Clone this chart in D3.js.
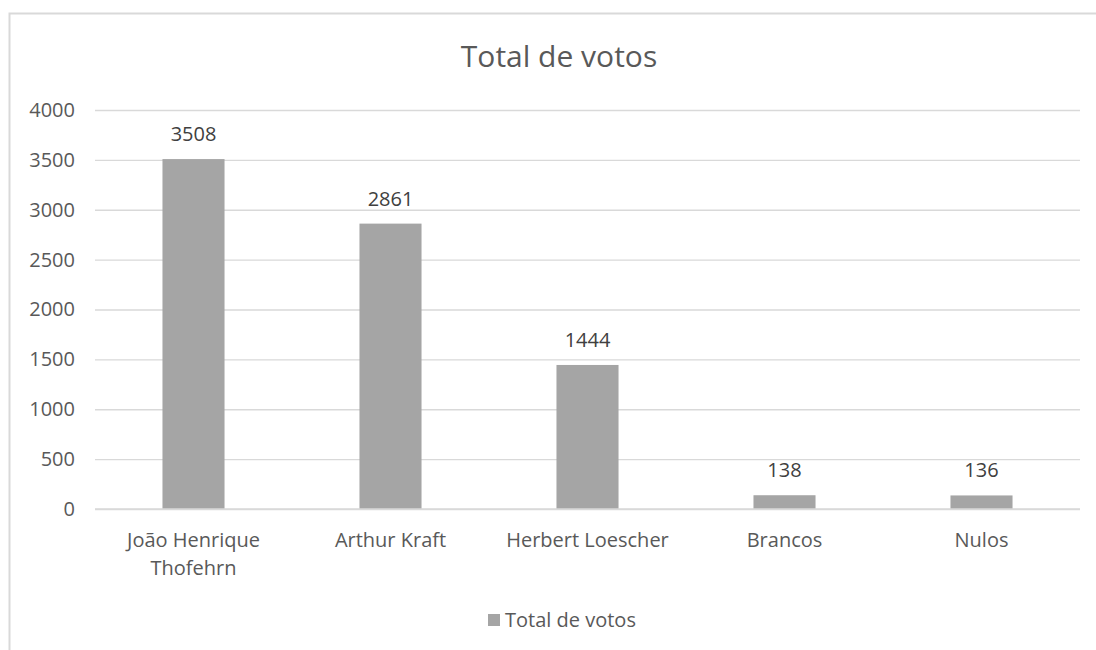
<!DOCTYPE html>
<html>
<head>
<meta charset="utf-8">
<script src="https://cdn.jsdelivr.net/npm/d3@7"></script>
<style>
  body { margin: 0; background: #fff; }
  text { font-family: "Open Sans", "Noto Sans", sans-serif; }
</style>
</head>
<body>
<svg id="chart" width="1096" height="650"></svg>
<script>
var categories = ["João Henrique Thofehrn", "Arthur Kraft", "Herbert Loescher", "Brancos", "Nulos"],
    votes = [3508, 2861, 1444, 138, 136],
    yTicks = [0, 500, 1000, 1500, 2000, 2500, 3000, 3500, 4000],
    seriesName = "Total de votos";

var svg = d3.select("#chart"),
    WIDTH = 1096,
    HEIGHT = 650,
    MARGINS = { top: 110, right: 16, bottom: 141, left: 95 };

// chart frame (cut off at right and bottom like the source)
svg.append("rect")
  .attr("x", 9.5).attr("y", 13.5)
  .attr("width", 1200).attr("height", 800)
  .attr("fill", "#fff")
  .attr("stroke", "#d9d9d9")
  .attr("stroke-width", 2);

var xScale = d3.scaleBand()
    .domain(categories)
    .range([MARGINS.left, WIDTH - MARGINS.right])
    .paddingInner(0.685)
    .paddingOuter(0.3425);

var yScale = d3.scaleLinear()
    .domain([0, 4000])
    .range([HEIGHT - MARGINS.bottom, MARGINS.top]);

// gridlines
var yAxis = d3.axisLeft(yScale)
    .tickValues(yTicks)
    .tickSize(-(WIDTH - MARGINS.right - MARGINS.left))
    .tickPadding(20)
    .tickFormat(d3.format("d"));

var gy = svg.append("g")
  .attr("transform", "translate(" + MARGINS.left + ",0)")
  .call(yAxis);
gy.select(".domain").remove();
gy.selectAll(".tick line").attr("stroke", "#d9d9d9").attr("stroke-width", 1.3);
gy.selectAll(".tick text")
  .attr("fill", "#595959")
  .style("font-size", "20px");

// bars
svg.selectAll(".bar")
  .data(votes)
  .enter().append("rect")
  .attr("class", "bar")
  .attr("x", function (d, i) { return xScale(categories[i]); })
  .attr("y", function (d) { return yScale(d); })
  .attr("width", xScale.bandwidth())
  .attr("height", function (d) { return yScale(0) - yScale(d); })
  .attr("fill", "#a5a5a5");

// value labels
svg.selectAll(".val")
  .data(votes)
  .enter().append("text")
  .attr("class", "val")
  .attr("x", function (d, i) { return xScale(categories[i]) + xScale.bandwidth() / 2; })
  .attr("y", function (d) { return yScale(d) - 18; })
  .attr("text-anchor", "middle")
  .attr("fill", "#404040")
  .style("font-size", "20px")
  .text(function (d) { return d; });

// x axis line
svg.append("line")
  .attr("x1", MARGINS.left).attr("x2", WIDTH - MARGINS.right)
  .attr("y1", yScale(0)).attr("y2", yScale(0))
  .attr("stroke", "#d9d9d9").attr("stroke-width", 1.3);

// category labels, wrapped like Excel
var wrapped = {
  "João Henrique Thofehrn": ["João Henrique", "Thofehrn"]
};
categories.forEach(function (c) {
  var lines = wrapped[c] || [c];
  var t = svg.append("text")
    .attr("x", xScale(c) + xScale.bandwidth() / 2)
    .attr("y", yScale(0) + 38)
    .attr("text-anchor", "middle")
    .attr("fill", "#595959")
    .style("font-size", "20px");
  lines.forEach(function (l, k) {
    t.append("tspan")
      .attr("x", xScale(c) + xScale.bandwidth() / 2)
      .attr("dy", k === 0 ? 0 : 28)
      .text(l);
  });
});

// title
svg.append("text")
  .attr("x", 559).attr("y", 67)
  .attr("text-anchor", "middle")
  .attr("fill", "#595959")
  .style("font-size", "30px")
  .text(seriesName);

// legend
svg.append("rect")
  .attr("x", 488).attr("y", 614)
  .attr("width", 12).attr("height", 12)
  .attr("fill", "#a5a5a5");
svg.append("text")
  .attr("x", 505).attr("y", 627)
  .attr("fill", "#595959")
  .style("font-size", "20px")
  .text(seriesName);
</script>
</body>
</html>
